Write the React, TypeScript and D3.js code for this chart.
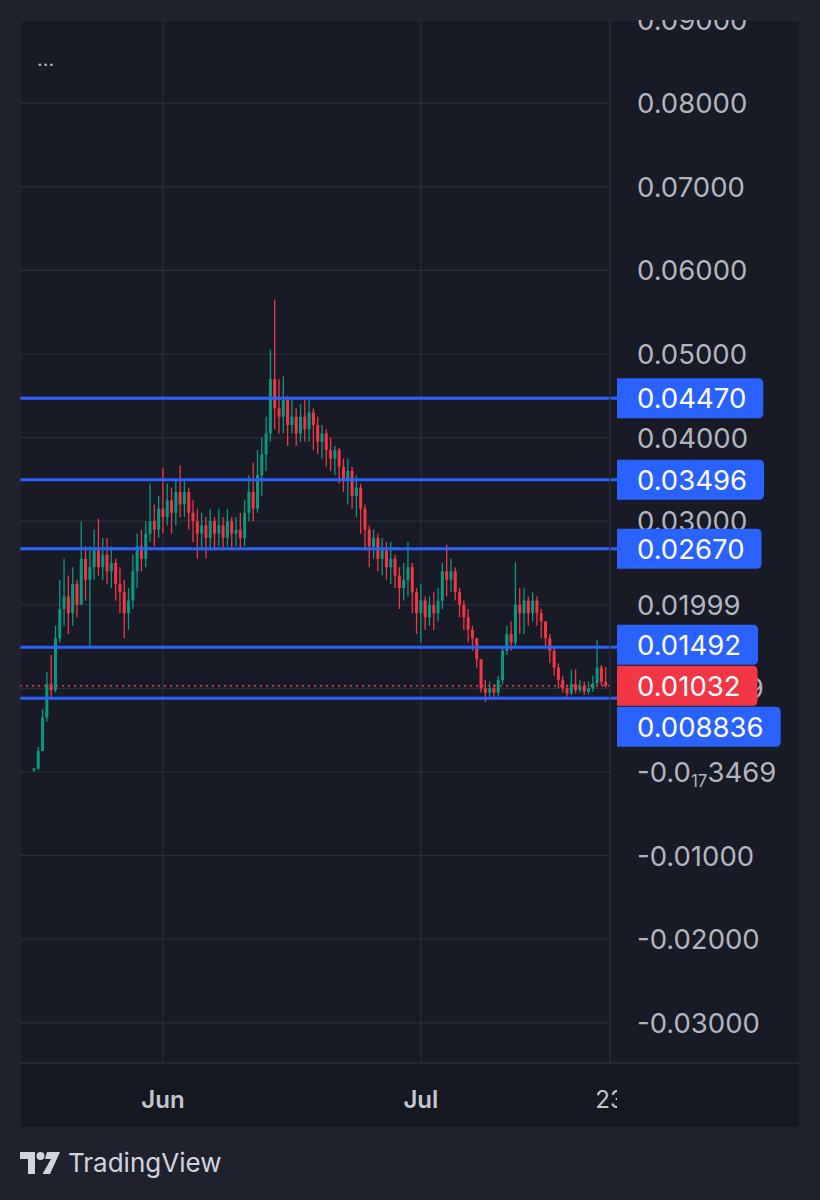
import { useEffect, useRef } from "react";
import * as d3 from "d3";

// 12h candles from 17 May, prices in thousandths (x 0.001)
const candleStart = Date.UTC(2024, 4, 17);
const HALF_DAY = 12 * 3600 * 1000;
const firstOpenMilli = 0.2;

const closeMilli = [
  0.4, 2.5, 6.5, 10.5, 9.8, 16, 19.5, 21, 19, 22.5,
  20, 25.5, 23, 24.5, 26.5, 24.5, 26, 24, 25, 22.5,
  21.5, 19, 20.5, 24, 27, 25.5, 28.5, 30, 29, 31.5,
  30.5, 32.5, 31, 33.5, 32, 33.5, 31, 30, 28.5, 29.5,
  28, 30, 28.5, 29.5, 28, 30, 28.5, 29, 28, 31,
  33.5, 31.5, 35.5, 38, 40.5, 47, 43.5, 42.5, 44.5, 41.5,
  42.5, 40.5, 42.5, 41, 43, 41.5, 39.5, 40.5, 38.5, 37.5,
  38.5, 36.5, 35, 36, 33, 34, 31.5, 29, 27, 28,
  25.5, 26.5, 24.5, 25.5, 23.5, 22, 23, 24.5, 21.5, 19,
  20.5, 18.5, 20, 19, 20.5, 24, 23, 24, 21.5, 20,
  18.5, 17, 16, 13.5, 10, 9.5, 10, 9.5, 11, 14.5,
  16.5, 15.5, 20, 19, 20.5, 19, 20.5, 19, 18, 16,
  14.5, 12.5, 11, 10, 9.4, 10.5, 9.8, 10.3, 9.6, 10,
  10.6, 12.5, 10.8, 10.32,
];
const highMilli = [
  0.5, 3, 7.5, 12, 14, 17.5, 23, 25.5, 23.5, 24.5,
  23, 30, 27, 27, 29, 30.3, 28, 28, 27, 25.5,
  24.5, 23, 22, 26, 28.5, 29, 30, 34.5, 32, 33,
  36.4, 34.5, 34, 35, 36.7, 35, 34, 32.5, 31.5, 31,
  30.5, 31.5, 30.5, 31.5, 30.5, 31.5, 30.5, 30.5, 31, 32.5,
  35.5, 37, 38.5, 40, 42.5, 50.5, 56.5, 47, 47.3, 45,
  44.8, 43.5, 44, 44.5, 44.5, 43.5, 42.5, 41.5, 41, 40,
  39, 38.8, 37.5, 37.5, 36.5, 35.5, 34.5, 32, 29.5, 29,
  28.5, 28, 27.5, 27.5, 26, 24.5, 25, 27.5, 25, 22,
  22.5, 21, 21, 21.5, 22, 25, 27.2, 25.5, 24.5, 22,
  20.5, 19.5, 17.5, 16, 13.5, 11, 10.8, 10.5, 11.5, 15,
  17.5, 18, 25.1, 22, 22, 21, 21.5, 21, 19.5, 18,
  16.5, 15, 13, 11.5, 10.5, 12.2, 12.3, 11, 10.8, 10.8,
  11.5, 15.8, 12.8, 12.6,
];
const lowMilli = [
  0, 0.3, 2.5, 6, 8.8, 9.5, 15.5, 17.5, 16.5, 17.5,
  18.5, 20, 20.5, 15, 23, 23.5, 23, 22.5, 22, 20.5,
  19, 16, 17, 19.5, 22, 24, 24.5, 27.5, 27, 28,
  28.5, 29.5, 28.5, 29.5, 30.5, 30.5, 29, 27.5, 25.5, 26.5,
  25.5, 26.5, 26.5, 27, 26.5, 27, 26.5, 27, 26.8, 27,
  30, 30, 31, 33, 36, 39.5, 41, 40.5, 40.5, 39,
  40.5, 39, 39.5, 39.5, 39.5, 38.5, 38, 37.5, 36.5, 36,
  35.5, 34.5, 33.5, 32, 31.5, 30.5, 28.5, 26.5, 24.5, 25.5,
  24, 23.5, 23, 22.5, 22, 19.5, 20.5, 21, 19, 16.5,
  15.5, 17, 17.5, 17, 18, 19.5, 21, 21.5, 20.5, 18.5,
  17, 15.5, 14.5, 12.5, 9.5, 8.4, 9, 9, 9, 10.5,
  14, 14.5, 15, 16.5, 16.5, 17.5, 18, 17.5, 16, 15,
  13, 11.5, 10, 9.5, 9, 9.2, 9.4, 9.5, 9.2, 9.3,
  9.6, 10.2, 10.3, 10.1,
];

const priceTicks = [0.09, 0.08, 0.07, 0.06, 0.05, 0.04, 0.03, 0.02, 0.01, 0, -0.01, -0.02, -0.03];
const priceTickLabels = [
  "0.09000", "0.08000", "0.07000", "0.06000", "0.05000", "0.04000", "0.03000",
  "0.01999", "0.009999", "ZERO", "-0.01000", "-0.02000", "-0.03000",
];

const levels = [0.0447, 0.03496, 0.0267, 0.01492, 0.008836];
const levelLabels = ["0.04470", "0.03496", "0.02670", "0.01492", "0.008836"];
const lastPrice = 0.01032;
const lastPriceLabel = "0.01032";

const timeTicks = [Date.UTC(2024, 5, 1), Date.UTC(2024, 6, 1), Date.UTC(2024, 6, 23)];
const timeTickLabels = ["Jun", "Jul", "23"];
const timeTickBold = [true, true, false];

const FONT = "Inter, Roboto, 'Noto Sans', sans-serif";
const GREEN = "#089981";
const RED = "#f23645";
const BLUE = "#2962ff";

export default function App() {
  const svgRef = useRef<SVGSVGElement>(null);

  useEffect(() => {
    if (!svgRef.current) return;
    const svg = d3.select(svgRef.current);
    svg.selectAll("*").remove();

    const W = 820;
    const H = 1200;
    const plot = { left: 20, right: 610, top: 20, bottom: 1063 };
    const axisEnd = 800;
    const timeBottom = 1128;

    // 배경
    svg.append("rect").attr("width", W).attr("height", H).attr("fill", "#1f222d");
    svg.append("rect")
      .attr("x", plot.left).attr("y", plot.top)
      .attr("width", axisEnd - plot.left).attr("height", timeBottom - plot.top)
      .attr("fill", "#181b25");
    svg.append("rect")
      .attr("x", plot.left).attr("y", plot.bottom)
      .attr("width", axisEnd - plot.left).attr("height", timeBottom - plot.bottom)
      .attr("fill", "#151821");

    const defs = svg.append("defs");
    defs.append("clipPath").attr("id", "plotClip").append("rect")
      .attr("x", plot.left).attr("y", plot.top)
      .attr("width", plot.right - plot.left).attr("height", plot.bottom - plot.top);
    defs.append("clipPath").attr("id", "axisClip").append("rect")
      .attr("x", plot.right).attr("y", plot.top)
      .attr("width", axisEnd - plot.right).attr("height", plot.bottom - plot.top);
    defs.append("clipPath").attr("id", "timeClip").append("rect")
      .attr("x", plot.left).attr("y", plot.bottom)
      .attr("width", 617 - plot.left).attr("height", timeBottom - plot.bottom);

    const x = d3.scaleUtc()
      .domain([new Date(Date.UTC(2024, 4, 15, 9)), new Date(Date.UTC(2024, 6, 23))])
      .range([plot.left, plot.right]);
    const y = d3.scaleLinear().domain([-0.03, 0.09]).range([1022.8, 19.6]);

    // 그리드
    const grid = svg.append("g").attr("clip-path", "url(#plotClip)");
    grid.selectAll("line.h")
      .data(priceTicks)
      .join("line")
      .attr("x1", plot.left).attr("x2", plot.right)
      .attr("y1", (d) => y(d)).attr("y2", (d) => y(d))
      .attr("stroke", "#2a2e39").attr("stroke-width", 1.2);
    grid.selectAll("line.v")
      .data(timeTicks)
      .join("line")
      .attr("x1", (d) => x(new Date(d))).attr("x2", (d) => x(new Date(d)))
      .attr("y1", plot.top).attr("y2", plot.bottom)
      .attr("stroke", "#2a2e39").attr("stroke-width", 1.2);

    // 캔들
    const candles = closeMilli.map((c, i) => {
      const o = i === 0 ? firstOpenMilli : closeMilli[i - 1];
      return {
        t: new Date(candleStart + i * HALF_DAY),
        o: o / 1000,
        c: c / 1000,
        h: Math.max(highMilli[i], o, c) / 1000,
        l: Math.min(lowMilli[i], o, c) / 1000,
      };
    });
    const cg = svg.append("g").attr("clip-path", "url(#plotClip)");
    const bodyW = 3;
    candles.forEach((d) => {
      const color = d.c >= d.o ? GREEN : RED;
      const cx = x(d.t);
      cg.append("line")
        .attr("x1", cx).attr("x2", cx)
        .attr("y1", y(d.h)).attr("y2", y(d.l))
        .attr("stroke", color).attr("stroke-width", 1.3);
      const top = y(Math.max(d.o, d.c));
      const bh = Math.max(1, y(Math.min(d.o, d.c)) - top);
      cg.append("rect")
        .attr("x", cx - bodyW / 2).attr("y", top)
        .attr("width", bodyW).attr("height", bh)
        .attr("fill", color);
    });

    // 마지막 가격 점선
    svg.append("line")
      .attr("x1", plot.left).attr("x2", plot.right)
      .attr("y1", y(lastPrice)).attr("y2", y(lastPrice))
      .attr("stroke", RED).attr("stroke-width", 1.5)
      .attr("stroke-dasharray", "2,4");

    // 수평선
    svg.selectAll("line.level")
      .data(levels)
      .join("line")
      .attr("x1", plot.left).attr("x2", 617)
      .attr("y1", (d) => y(d)).attr("y2", (d) => y(d))
      .attr("stroke", BLUE).attr("stroke-width", 3);

    // 축 경계
    svg.append("line")
      .attr("x1", plot.right).attr("x2", plot.right)
      .attr("y1", plot.top).attr("y2", plot.bottom)
      .attr("stroke", "#2a2e39").attr("stroke-width", 1.2);
    svg.append("line")
      .attr("x1", plot.left).attr("x2", axisEnd)
      .attr("y1", plot.bottom).attr("y2", plot.bottom)
      .attr("stroke", "#2a2e39").attr("stroke-width", 1.5);
    svg.append("rect")
      .attr("x", plot.left).attr("y", plot.top)
      .attr("width", axisEnd - plot.left).attr("height", timeBottom - plot.top)
      .attr("fill", "none").attr("stroke", "#262a35").attr("stroke-width", 1);

    // 가격축 라벨
    const axis = svg.append("g").attr("clip-path", "url(#axisClip)");
    const labelX = 637;
    const fs = 27.5;
    priceTicks.forEach((v, i) => {
      const t = axis.append("text")
        .attr("x", labelX).attr("y", y(v)).attr("dy", "0.36em")
        .attr("fill", "#b2b5be").attr("font-family", FONT).attr("font-size", fs);
      if (priceTickLabels[i] === "ZERO") {
        t.append("tspan").text("-0.0");
        t.append("tspan").attr("font-size", 17).attr("dy", 5).text("17");
        t.append("tspan").attr("dy", -5).text("3469");
      } else {
        t.text(priceTickLabels[i]);
      }
    });

    // 가격 라벨 박스
    const boxH = 40;
    const rightRounded = (x0: number, yc: number, w: number, h: number, r: number) => {
      const y0 = yc - h / 2;
      return `M${x0},${y0}H${x0 + w - r}Q${x0 + w},${y0} ${x0 + w},${y0 + r}V${y0 + h - r}Q${x0 + w},${y0 + h} ${x0 + w - r},${y0 + h}H${x0}Z`;
    };
    const redY = y(lastPrice);
    const drawBox = (label: string, yc: number, fill: string) => {
      const g = axis.append("g");
      const path = g.append("path").attr("fill", fill);
      const t = g.append("text")
        .attr("x", labelX).attr("y", yc).attr("dy", "0.36em")
        .attr("fill", "#ffffff").attr("font-family", FONT).attr("font-size", fs)
        .text(label);
      const tw = (t.node() as SVGTextElement).getComputedTextLength();
      path.attr("d", rightRounded(617, yc, labelX - 617 + tw + 17, boxH, 5));
    };
    levels.forEach((v, i) => {
      let yc = y(v);
      if (yc < redY) yc = Math.min(yc, redY - boxH - 1);
      else yc = Math.max(yc, redY + boxH + 1);
      drawBox(levelLabels[i], yc, BLUE);
    });
    drawBox(lastPriceLabel, redY, RED);

    // 시간축 라벨
    const time = svg.append("g").attr("clip-path", "url(#timeClip)");
    timeTicks.forEach((d, i) => {
      time.append("text")
        .attr("x", x(new Date(d))).attr("y", 1099).attr("dy", "0.36em")
        .attr("text-anchor", "middle")
        .attr("fill", "#c3c6ce").attr("font-family", FONT).attr("font-size", 24)
        .attr("font-weight", timeTickBold[i] ? 600 : 400)
        .text(timeTickLabels[i]);
    });

    // 상단 "..."
    svg.append("text")
      .attr("x", 37).attr("y", 66)
      .attr("fill", "#b2b5be").attr("font-family", FONT).attr("font-size", 20)
      .text("...");

    // TradingView 로고
    const logo = svg.append("g").attr("fill", "#d1d4dc");
    logo.append("path").attr("d", "M20,1152H35V1174H28V1159H20Z");
    logo.append("circle").attr("cx", 40.5).attr("cy", 1156).attr("r", 4);
    logo.append("path").attr("d", "M47,1152H60L50,1174H42.5L51,1159H45Z");
    svg.append("text")
      .attr("x", 68).attr("y", 1163).attr("dy", "0.36em")
      .attr("fill", "#d1d4dc").attr("font-family", FONT).attr("font-size", 26)
      .text("TradingView");
  }, []);

  return (
    <svg
      ref={svgRef}
      width={820}
      height={1200}
      style={{ position: "absolute", left: 0, top: 0, display: "block" }}
    />
  );
}
